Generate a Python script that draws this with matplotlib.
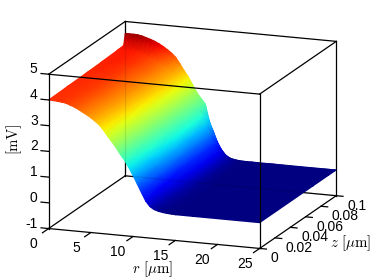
import numpy as np
import matplotlib
matplotlib.use("Agg")
import matplotlib.pyplot as plt
from mpl_toolkits.mplot3d import proj3d

plt.rcParams["font.family"] = ["Liberation Sans", "DejaVu Sans"]
plt.rcParams["mathtext.fontset"] = "cm"

r_um = [0, .5, 1, 1.5, 2, 2.5, 3, 3.5, 4, 4.5, 5, 5.5, 6, 6.5, 7, 7.5, 8, 8.5, 9, 9.5, 10, 10.5,
        11, 11.5, 12, 12.5, 13, 13.5, 14, 14.5, 15, 17, 25]
z_um = [0, .025, .05, .07, .09, .098, .1]

# membrane potential [mV] along r, one list per z slice
v_z000 = [4.00, 3.99, 3.98, 3.96, 3.94, 3.88, 3.82, 3.74, 3.65, 3.56, 3.46, 3.34, 3.21, 3.02, 2.80, 2.60,
          2.38, 2.14, 1.92, 1.66, 1.37, 1.05, .73, .42, .22, .12, .07, .04, .02, .01, 0, 0, 0]
v_z025 = [4.02, 4.01, 4.00, 3.99, 3.97, 3.93, 3.87, 3.80, 3.71, 3.62, 3.53, 3.42, 3.29, 3.13, 2.93, 2.72,
          2.51, 2.28, 2.05, 1.81, 1.53, 1.23, .91, .59, .34, .18, .10, .06, .03, .02, 0, 0, 0]
v_z050 = [4.04, 4.03, 4.02, 4.01, 3.99, 3.97, 3.91, 3.85, 3.77, 3.68, 3.59, 3.49, 3.37, 3.24, 3.05, 2.83,
          2.63, 2.41, 2.17, 1.95, 1.69, 1.40, 1.08, .76, .45, .24, .13, .07, .04, .02, .01, 0, 0]
v_z070 = [4.06, 4.06, 4.07, 4.06, 4.04, 4.01, 3.96, 3.90, 3.83, 3.75, 3.66, 3.56, 3.44, 3.32, 3.13, 2.91,
          2.70, 2.48, 2.25, 2.02, 1.75, 1.43, 1.10, .77, .46, .24, .12, .06, .03, .01, 0, 0, 0]
v_z090 = [4.09, 4.10, 4.12, 4.11, 4.09, 4.06, 4.02, 3.96, 3.90, 3.82, 3.73, 3.63, 3.52, 3.40, 3.22, 3.00,
          2.78, 2.56, 2.33, 2.10, 1.82, 1.46, 1.12, .78, .47, .24, .12, .06, .03, .01, 0, 0, 0]
v_z098 = [4.11, 4.28, 4.40, 4.42, 4.40, 4.35, 4.30, 4.24, 4.16, 4.07, 3.96, 3.84, 3.70, 3.48, 3.26, 3.03,
          2.78, 2.52, 2.30, 2.09, 1.55, 1.15, .75, .45, .24, .12, .06, .03, .01, 0, 0, 0, 0]
v_z100 = [4.54, 4.54, 4.54, 4.53, 4.50, 4.45, 4.40, 4.34, 4.26, 4.17, 4.06, 3.94, 3.79, 3.55, 3.30, 3.07,
          2.78, 2.50, 2.28, 2.08, 1.40, 1.00, .58, .30, .13, .06, .03, .01, 0, 0, 0, 0, 0]

r_ticks = [0, 5, 10, 15, 20, 25]
z_ticks = [0, .02, .04, .06, .08, .1]
z_tick_labels = ["0", "0.02", "0.04", "0.06", "0.08", "0.1"]
v_ticks = [-1, 0, 1, 2, 3, 4, 5]

fig = plt.figure(figsize=(3.74, 2.8), dpi=100)
rect = [.001, -.1679, 1, 1.3357]


def box_axes(zorder):
    a = fig.add_axes(rect, projection="3d", proj_type="ortho", zorder=zorder)
    a.patch.set_alpha(0)
    a.computed_zorder = False
    a.view_init(elev=14.76, azim=-69.7)
    a.set_box_aspect((226, 221.7, 160.3), zoom=.917)
    a.set_xlim(0, 25)
    a.set_ylim(0, .1)
    a.set_zlim(-1, 5)
    a.set_axis_off()
    return a


# three layers, since mplot3d surfaces are flat-shaded: back of the box, surface, front of the box
back = box_axes(0)
front = box_axes(2)
back.apply_aspect()

# smooth shading: project the slices with the 3d axes, back slices first so front ones paint over
R, Z = np.meshgrid(r_um, z_um)
V = np.array([v_z100, v_z098, v_z090, v_z070, v_z050, v_z025, v_z000])
Z = Z[::-1]
px, py, _ = proj3d.proj_transform(R.ravel(), Z.ravel(), V.ravel(), back.get_proj())
mid = fig.add_axes(rect, zorder=1)
mid.patch.set_alpha(0)
mid.set_axis_off()
mid.pcolormesh(px.reshape(R.shape), py.reshape(R.shape), V, shading="gouraud", cmap="jet",
               vmin=0, vmax=4.65, transform=back.transData)


def edge(a, p, q, **kw):
    a.plot([p[0], q[0]], [p[1], q[1]], [p[2], q[2]], color="k", lw=.9,
           solid_capstyle="projecting", **kw)


edge(back, (0, .1, -1), (25, .1, -1))
edge(back, (0, 0, -1), (0, .1, -1))
edge(back, (0, .1, -1), (0, .1, 5))
edge(back, (25, .1, -1), (25, .1, 5))

edge(front, (25, 0, -1), (25, .1, -1))
edge(front, (0, 0, -1), (25, 0, -1))
edge(front, (0, 0, -1), (0, 0, 5))
edge(front, (25, 0, -1), (25, 0, 5))
edge(front, (0, 0, 5), (25, 0, 5))
edge(front, (0, 0, 5), (0, .1, 5))
edge(front, (25, 0, 5), (25, .1, 5))
edge(front, (0, .1, 5), (25, .1, 5))
# back lines show faintly through the surface
edge(front, (0, .1, -1), (0, .1, 5), alpha=.1)
edge(front, (0, .1, -1), (25, .1, -1), alpha=.1)

for r in r_ticks:
    edge(front, (r, 0, -1), (r, -.008, -1))
    front.text(r, -.0195, -1.22, str(r), ha="center", va="center", fontsize=10)
for z, lab in zip(z_ticks, z_tick_labels):
    edge(front, (25, z, -1), (25.8, z, -1))
    front.text(26.3, z, -1.35, lab, ha="left", va="center", fontsize=10)
for v in v_ticks:
    edge(front, (0, 0, v), (-.9, 0, v))
    front.text(-1.3, 0, v + .15, str(v), ha="right", va="center", fontsize=10)

front.text(12.3, 0, -2.2, r"$r\ [\mathrm{\mu m}]$", ha="center", va="center", fontsize=10.7)
front.text(27.6, .09, -2.55, r"$z\ [\mathrm{\mu m}]$", ha="center", va="center", fontsize=10.7)
# zdir="z" is what turns the text upright in a 3d axes
front.text(-4.25, 0, 2.43, "[mV]", zdir="z", ha="center", va="center", fontsize=10.5, family="cmr10")

fig.savefig("out.png", dpi=100)
